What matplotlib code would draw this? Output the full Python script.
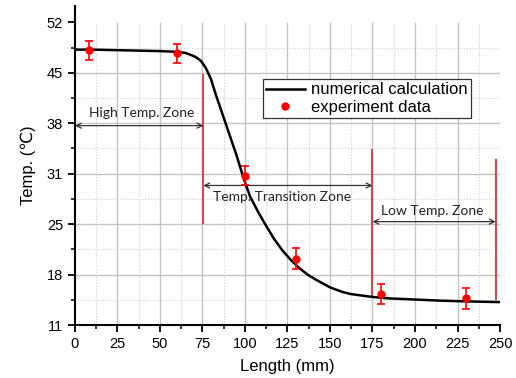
import matplotlib
matplotlib.use("Agg")
import matplotlib.pyplot as plt
import numpy as np

# numerical calculation curve
calc_x = [0, 10, 20, 30, 40, 50, 60, 65, 68, 71, 74, 77, 80, 83, 87, 91, 95, 99,
          103, 108, 112, 117, 122, 127, 132, 137, 142, 150, 157, 162, 170, 175,
          185, 200, 215, 230, 240, 250]
calc_y = [48.3, 48.3, 48.25, 48.2, 48.15, 48.1, 48.0, 47.85, 47.6, 47.3, 46.8, 45.8,
          44.3, 42.1, 39.4, 36.7, 34.0, 31.0, 28.4, 26.2, 24.6, 22.7, 21.1, 19.8,
          18.7, 17.8, 17.1, 16.1, 15.5, 15.2, 14.95, 14.8, 14.6, 14.45, 14.3,
          14.2, 14.15, 14.1]

# experiment data with error bars
exp_x = [8, 60, 100, 130, 180, 230]
exp_y = [48.2, 47.8, 31.2, 20.0, 15.2, 14.6]
exp_err = [1.3, 1.3, 1.3, 1.4, 1.4, 1.4]

x_ticks = [0, 25, 50, 75, 100, 125, 150, 175, 200, 225, 250]
y_ticks = list(np.linspace(11, 52, 7))
y_labels = ["11", "18", "25", "31", "38", "45", "52"]

# zone boundaries and arrows
zone_lines = [(75.5, 24.8, 44.8), (175, 14.8, 34.7), (247.5, 14.5, 33.3)]
zone_arrows = [(0, 75.5, 38.0), (75.5, 175, 29.9), (175, 247.5, 25.0)]
zone_text = [("High Temp. Zone", 39, 39.7), ("Temp. Transition Zone", 122, 28.3),
             ("Low Temp. Zone", 210, 26.4)]

fig = plt.figure(figsize=(5.16, 3.78), dpi=100)
ax = fig.add_axes([0.1453, 0.1402, 0.969 - 0.1453, 0.984 - 0.1402])

# grid only inside the data box
minor_x = [t + 12.5 for t in x_ticks[:-1]]
minor_y = [(a + b) / 2 for a, b in zip(y_ticks[:-1], y_ticks[1:])]
ax.vlines(x_ticks[1:-1], 11, 52, colors="#c4c4c4", lw=1.0, zorder=0)
ax.hlines(y_ticks[1:-1], 0, 250, colors="#c4c4c4", lw=1.0, zorder=0)
ax.vlines(minor_x, 11, 52, colors="#cfcfcf", lw=0.8, linestyles=(0, (1, 1.5)), zorder=0)
ax.hlines(minor_y, 0, 250, colors="#cfcfcf", lw=0.8, linestyles=(0, (1, 1.5)), zorder=0)

for xl, y0, y1 in zone_lines:
    ax.plot([xl, xl], [y0, y1], color="#c0504d", lw=1.5, zorder=2)

for x0, x1, ya in zone_arrows:
    ax.annotate("", xy=(x1, ya), xytext=(x0, ya),
                arrowprops=dict(arrowstyle="<->", color="#333333", lw=0.9,
                                shrinkA=0, shrinkB=0, mutation_scale=9),
                zorder=3)

for txt, tx, ty in zone_text:
    ax.text(tx, ty, txt, ha="center", va="center", fontsize=10,
            family=["Lato", "DejaVu Sans"], color="#222222", zorder=3)

line, = ax.plot(calc_x, calc_y, color="black", lw=1.8, zorder=4,
                label="numerical calculation")
ax.errorbar(exp_x, exp_y, yerr=exp_err, fmt="o", color="red", ms=5,
            elinewidth=1.2, capsize=3, capthick=1.2, zorder=5)
pts, = ax.plot([], [], "o", color="red", ms=5, label="experiment data")

leg = ax.legend(handles=[line, pts], loc="upper left", bbox_to_anchor=(0.442, 0.771),
                prop={"family": ["Liberation Sans", "DejaVu Sans"], "size": 12},
                frameon=True, fancybox=False, framealpha=1, edgecolor="#333333",
                handlelength=2.3, handletextpad=0.4, borderpad=0.2, labelspacing=0.15,
                borderaxespad=0)
leg.get_frame().set_linewidth(0.9)

ax.set_xlim(0, 250)
ax.set_ylim(11, 54.2)
ax.set_xticks(x_ticks)
ax.set_xticks(minor_x, minor=True)
ax.set_yticks(y_ticks)
ax.set_yticks(minor_y, minor=True)
ax.set_yticklabels(y_labels)

for s in ("top", "right"):
    ax.spines[s].set_visible(False)
for s in ("left", "bottom"):
    ax.spines[s].set_linewidth(1.5)
ax.tick_params(which="major", direction="out", length=5, width=1.3, labelsize=10.5)
ax.tick_params(which="minor", direction="out", length=3, width=1.1)
for lab in ax.get_xticklabels() + ax.get_yticklabels():
    lab.set_family(["Liberation Sans", "DejaVu Sans"])

ax.set_xlabel("Length (mm)", fontsize=12, family=["Liberation Sans", "DejaVu Sans"],
              labelpad=6)
ax.set_ylabel("Temp. (\u2103)", fontsize=12, family=["Liberation Sans", "DejaVu Sans"],
              labelpad=8)

fig.savefig("out.png", dpi=100)
